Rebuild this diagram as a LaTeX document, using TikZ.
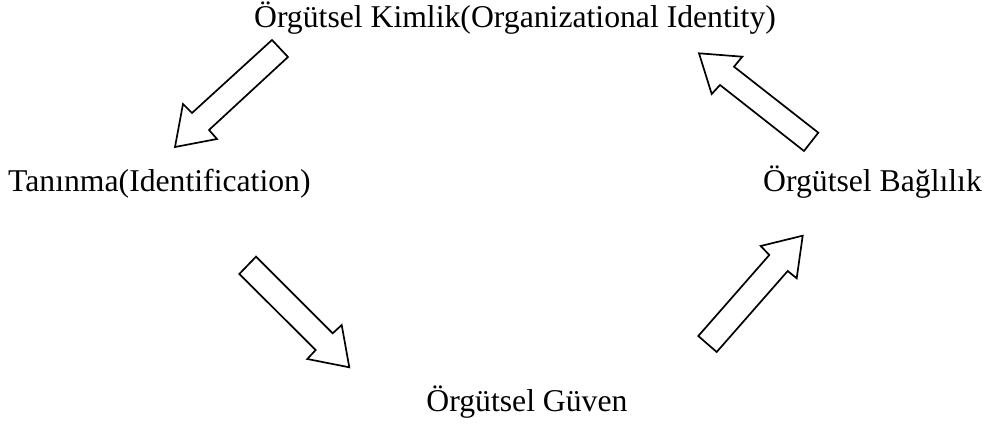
\documentclass[tikz,border=0pt]{standalone}
\usepackage{fontspec}
\setmainfont{Liberation Serif}
\begin{document}
\begin{tikzpicture}[x=1pt,y=-1pt,
  label/.style={inner sep=0pt,font=\fontsize{31.7}{38}\selectfont},
  blockarrow/.style={draw=black,fill=white,line width=1.7pt,line join=miter}]
\useasboundingbox (0,0) rectangle (991,427);

% the four stages
\node[label,anchor=base] (kimlik) at (515,28) {Örgütsel Kimlik(Organizational Identity)};
\node[label,anchor=base west] (taninma) at (8,192) {Tanınma(Identification)};
\node[label,anchor=base west] (baglilik) at (763,192) {Örgütsel Bağlılık};
\node[label,anchor=base] (guven) at (527,412) {Örgütsel Güven};

% block arrows of the cycle
\draw[blockarrow] (272,40) -- (288,57) -- (209,130) -- (217,139) -- (175,147)
  -- (183,104) -- (192,113) -- cycle;
\draw[blockarrow] (239.3,274) -- (256,256.7) -- (332.7,333.3) -- (341.7,325)
  -- (349.3,367.3) -- (307.3,359) -- (315.7,350) -- cycle;
\draw[blockarrow] (698.3,336) -- (716.7,352) -- (787.7,271) -- (796.7,278.3)
  -- (802.7,235.7) -- (760.7,246) -- (769.3,255) -- cycle;
\draw[blockarrow] (818.3,132.7) -- (804,151) -- (720,85) -- (711.7,94)
  -- (699,53.3) -- (742.3,56.7) -- (734,66.7) -- cycle;
\end{tikzpicture}
\end{document}
